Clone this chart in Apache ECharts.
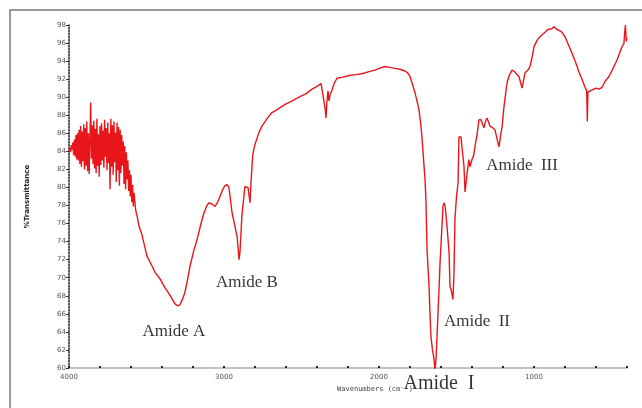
<!DOCTYPE html>
<html>
<head>
<meta charset="utf-8">
<script src="https://cdn.jsdelivr.net/npm/echarts@6/dist/echarts.min.js"></script>
<style>
  html, body { margin: 0; padding: 0; background: #fff; }
  #chart { width: 642px; height: 408px; }
</style>
</head>
<body>
<div id="chart"></div>
<script>
const wavenumbers = [
  4000, 3995, 3990, 3985, 3980, 3975, 3970, 3965, 3960, 3955,
  3950, 3945, 3940, 3935, 3930, 3925, 3920, 3915, 3910, 3905,
  3900, 3895, 3890, 3885, 3880, 3875, 3870, 3865, 3860, 3855,
  3850, 3845, 3840, 3835, 3830, 3825, 3820, 3815, 3810, 3805,
  3800, 3795, 3790, 3785, 3780, 3775, 3770, 3765, 3760, 3755,
  3750, 3745, 3740, 3735, 3730, 3725, 3720, 3715, 3710, 3705,
  3700, 3695, 3690, 3685, 3680, 3675, 3670, 3665, 3660, 3655,
  3650, 3645, 3640, 3635, 3630, 3625, 3620, 3615, 3610, 3605,
  3600, 3595, 3590, 3585, 3580,
  3570, 3560, 3548, 3530, 3497, 3470, 3445,
  3410, 3381, 3350, 3316, 3300, 3284, 3268, 3252, 3235, 3219,
  3195, 3174, 3150, 3129, 3110, 3097, 3080, 3058, 3040, 3026,
  3010, 2994, 2980, 2968, 2948, 2929, 2915, 2903, 2897, 2884,
  2865, 2855, 2845, 2832, 2826, 2815, 2806, 2790, 2774, 2755,
  2735, 2710, 2690, 2650, 2606, 2560, 2516, 2470, 2432, 2400,
  2374, 2365, 2361, 2355, 2348, 2342, 2336, 2329, 2323, 2315,
  2303, 2290, 2271, 2240, 2194, 2150, 2110, 2070, 2026, 2000,
  1961, 1930, 1897, 1865, 1832, 1815, 1800, 1785, 1768, 1755,
  1742, 1732, 1723, 1713, 1703, 1697, 1690, 1684, 1677, 1671,
  1665, 1655, 1645, 1639, 1632, 1625, 1619, 1612, 1606, 1596,
  1587, 1581, 1574, 1568, 1558, 1548, 1542, 1535, 1529, 1523,
  1516, 1510, 1500, 1490, 1484, 1471, 1465, 1458, 1452, 1445,
  1432, 1420, 1413, 1400, 1390, 1381, 1368, 1355, 1342, 1323,
  1313, 1303, 1284, 1265, 1252, 1240, 1226, 1215, 1206, 1194,
  1174, 1160, 1142, 1123, 1110, 1097, 1077, 1058, 1040, 1026,
  1010, 1000, 980, 968, 950, 929, 910, 884, 870, 852,
  839, 820, 800, 780, 755, 730, 710, 690, 671, 660,
  656, 652, 640, 625, 613, 600, 580, 561, 540, 516,
  490, 465, 445, 432, 420, 415, 410, 405, 400
];
// %transmittance at each wavenumber
const transmittance = [
  84.0, 84.4, 83.9, 84.7, 84.2, 85.0, 83.6, 85.3, 83.4, 85.8,
  83.1, 86.0, 83.0, 86.4, 82.6, 86.8, 82.3, 86.2, 82.9, 87.0,
  82.0, 86.6, 82.4, 87.3, 81.8, 86.0, 81.5, 85.2, 89.4, 83.2,
  86.9, 82.6, 87.4, 82.1, 86.5, 81.6, 87.6, 82.4, 85.9, 81.2,
  86.8, 82.5, 87.1, 83.0, 86.3, 82.2, 87.5, 83.4, 86.6, 81.9,
  87.2, 82.7, 86.0, 79.8, 87.6, 82.3, 86.9, 81.4, 87.3, 82.8,
  86.1, 80.6, 87.2, 81.9, 86.7, 80.2, 86.4, 81.6, 85.8, 82.4,
  85.1, 80.4, 84.6, 79.8, 83.9, 80.9, 83.0, 79.6, 81.9, 79.0,
  81.4, 78.4, 80.3, 77.9, 79.4,
  77.5, 76.8, 75.7, 74.8, 72.4, 71.5, 70.6,
  69.8, 68.9, 68.1, 67.1, 66.9, 67.0, 67.6, 68.4, 69.8, 71.3,
  73.0, 74.2, 75.9, 77.2, 78.0, 78.3, 78.2, 77.9, 78.4, 79.0,
  79.7, 80.2, 80.3, 80.0, 77.2, 75.7, 74.5, 72.0, 72.8, 77.0,
  80.1, 80.2, 80.0, 78.3, 80.5, 83.5, 84.4, 85.3, 86.1, 86.8,
  87.3, 87.9, 88.3, 88.7, 89.2, 89.6, 90.0, 90.4, 90.9, 91.2,
  91.5, 91.6, 90.2, 89.5, 88.8, 87.7, 89.5, 90.7, 89.6, 90.3,
  90.8, 91.5, 92.1, 92.2, 92.4, 92.5, 92.6, 92.8, 93.0, 93.2,
  93.4, 93.3, 93.2, 93.1, 92.9, 92.7, 92.3, 91.5, 90.5, 89.6,
  88.6, 87.2, 85.6, 83.2, 80.9, 78.5, 73.1, 71.2, 69.0, 66.0,
  63.5, 62.0, 61.0, 59.8, 61.0, 63.8, 66.2, 69.0, 71.7, 75.0,
  77.9, 78.3, 78.0, 77.0, 75.0, 72.8, 69.0, 68.7, 68.5, 67.6,
  70.6, 76.5, 79.0, 80.5, 85.6, 85.6, 84.5, 83.4, 82.4, 79.5,
  81.5, 83.1, 82.3, 83.1, 83.5, 84.5, 85.8, 87.5, 87.5, 86.6,
  87.3, 87.7, 86.8, 86.6, 86.4, 85.5, 84.5, 85.8, 86.7, 88.9,
  91.6, 92.4, 93.0, 92.8, 92.5, 92.3, 91.0, 92.7, 93.0, 93.4,
  94.6, 95.6, 96.3, 96.6, 96.9, 97.2, 97.5, 97.6, 97.8, 97.5,
  97.4, 97.2, 96.7, 95.9, 94.9, 93.8, 92.8, 92.0, 91.1, 90.7,
  87.3, 90.6, 90.5, 90.8, 90.6, 91.0, 90.9, 91.1, 91.8, 92.3,
  93.2, 94.1, 95.0, 95.6, 95.9, 97.2, 98.0, 96.2, 96.6
];
// band labels and where they sit on the plot
const bandNames = ['Amide A', 'Amide B', 'Amide  I', 'Amide  II', 'Amide  III'];
const bandX = [3323, 2852, 1613, 1368, 1077];
const bandY = [64.0, 69.5, 58.2, 65.2, 82.4];
const bandSize = [17, 17, 20, 17, 17];

const myChart = echarts.init(document.getElementById('chart'));

myChart.setOption({
  animation: false,
  backgroundColor: '#fff',
  grid: { left: 69, right: 15, top: 25, bottom: 40 },
  graphic: [{
    type: 'polyline',
    shape: { points: [[10, 420], [10, 10], [660, 10]] },
    style: { stroke: '#777', lineWidth: 1.5, fill: null }
  }],
  xAxis: {
    type: 'value',
    inverse: true,
    min: 400,
    max: 4000,
    interval: 200,
    name: 'Wavenumbers (cm⁻¹)',
    nameLocation: 'middle',
    nameGap: 13,
    nameTextStyle: { fontFamily: 'DejaVu Sans Mono', fontSize: 7, color: '#444', padding: [0, 0, 0, 54] },
    axisLine: { lineStyle: { color: '#b0b0b0', width: 1.5 } },
    axisTick: { length: 2, inside: true, lineStyle: { color: '#222', width: 2 } },
    axisLabel: {
      fontFamily: 'DejaVu Sans',
      fontSize: 7,
      color: '#555',
      margin: 6,
      showMinLabel: true,
      formatter: function (v) { return v % 1000 === 0 ? String(v) : ''; }
    },
    splitLine: { show: false }
  },
  yAxis: {
    type: 'value',
    min: 60,
    max: 98,
    interval: 2,
    name: '%Transmittance',
    nameLocation: 'middle',
    nameGap: 38,
    nameTextStyle: { fontFamily: 'DejaVu Sans', fontSize: 7, fontWeight: 'bold', color: '#222' },
    axisLine: { lineStyle: { color: '#222', width: 1.5, type: 'dotted' } },
    axisTick: { length: 3, lineStyle: { color: '#333' } },
    axisLabel: { fontFamily: 'DejaVu Sans', fontSize: 7, color: '#555', margin: 3 },
    splitLine: { show: false }
  },
  series: [{
    type: 'line',
    data: wavenumbers.map((w, i) => [w, transmittance[i]]),
    showSymbol: false,
    clip: true,
    lineStyle: { color: '#e8161b', width: 1.4 },
    z: 3
  }, {
    type: 'scatter',
    symbolSize: 0,
    silent: true,
    data: bandNames.map((n, i) => ({
      name: n,
      value: [bandX[i], bandY[i]],
      label: { fontSize: bandSize[i] }
    })),
    label: {
      show: true,
      position: 'inside',
      formatter: p => p.name,
      fontFamily: 'Liberation Serif',
      color: '#000'
    },
    clip: false,
    z: 4
  }]
});
</script>
</body>
</html>
